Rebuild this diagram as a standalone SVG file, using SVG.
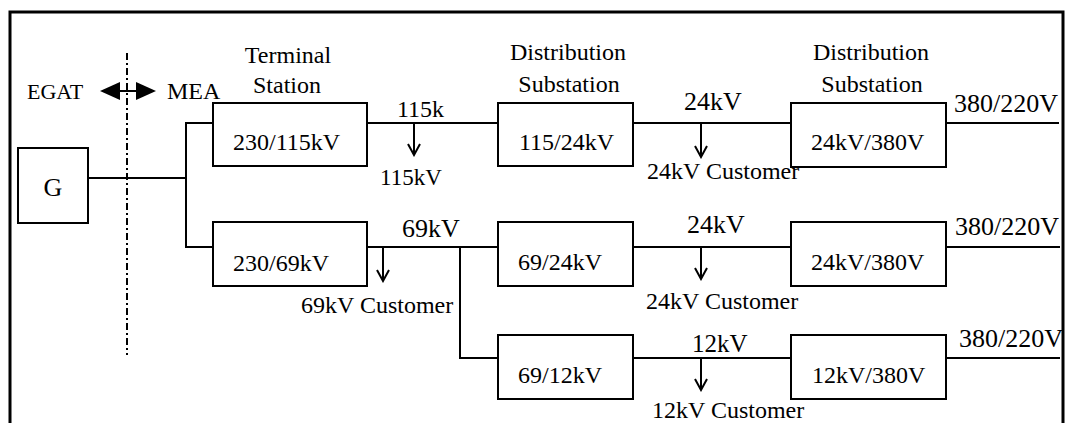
<svg xmlns="http://www.w3.org/2000/svg" width="1067" height="423" viewBox="0 0 1067 423">
<defs>
<marker id="vhead" markerUnits="userSpaceOnUse" markerWidth="14" markerHeight="14" viewBox="0 0 14 14" refX="12" refY="7" orient="auto">
<path d="M1,1 L12,7 L1,13" fill="none" stroke="#000" stroke-width="2"/>
</marker>
</defs>
<style>
text{font-family:"Liberation Serif","Times New Roman",serif;fill:#000;font-size:24px}
.box{fill:#fff;stroke:#000;stroke-width:2}
.ln{stroke:#000;stroke-width:2;fill:none}
.v{font-size:26px}
.m{text-anchor:middle}
</style>
<rect width="1067" height="423" fill="#fff"/>
<path d="M10,423 V12 H1063 V423" fill="none" stroke="#000" stroke-width="3"/>

<g id="connectors">
<line class="ln" x1="127" y1="53" x2="127" y2="355" stroke-dasharray="7 3 2 3"/>
<line class="ln" x1="118" y1="91" x2="138" y2="91"/>
<polygon points="100,91 120,82 120,100" fill="#000"/>
<polygon points="156,91 136,82 136,100" fill="#000"/>
<polyline class="ln" points="88,178 186,178"/>
<polyline class="ln" points="213,123 186,123 186,247 213,247"/>
<line class="ln" x1="367" y1="123" x2="498" y2="123"/>
<line class="ln" x1="633" y1="123" x2="791" y2="123"/>
<line class="ln" x1="946" y1="123" x2="1059" y2="123"/>
<line class="ln" x1="367" y1="247" x2="498" y2="247"/>
<polyline class="ln" points="460,247 460,358 498,358"/>
<line class="ln" x1="633" y1="247" x2="791" y2="247"/>
<line class="ln" x1="946" y1="247" x2="1060" y2="247"/>
<line class="ln" x1="633" y1="358" x2="791" y2="358"/>
<line class="ln" x1="946" y1="358" x2="1060" y2="358"/>
<line class="ln" x1="414" y1="123" x2="414" y2="155" marker-end="url(#vhead)"/>
<line class="ln" x1="701" y1="123" x2="701" y2="157" marker-end="url(#vhead)"/>
<line class="ln" x1="383" y1="247" x2="383" y2="281" marker-end="url(#vhead)"/>
<line class="ln" x1="701" y1="247" x2="701" y2="279" marker-end="url(#vhead)"/>
<line class="ln" x1="701" y1="358" x2="701" y2="390" marker-end="url(#vhead)"/>
</g>

<g id="labels">
<text x="27" y="99" style="font-size:22px">EGAT</text>
<text x="167" y="99">MEA</text>
<text x="288" y="63" class="m">Terminal</text>
<text x="287" y="93" class="m">Station</text>
<text x="568" y="60" class="m">Distribution</text>
<text x="569" y="92" class="m">Substation</text>
<text x="871" y="60" class="m">Distribution</text>
<text x="872" y="92" class="m">Substation</text>
<text x="397" y="117">115k</text>
<text x="380" y="185" style="font-size:23px">115kV</text>
<text x="684" y="110" class="v">24kV</text>
<text x="647" y="179">24kV Customer</text>
<text x="954" y="112" class="v">380/220V</text>
<text x="402" y="237" class="v">69kV</text>
<text x="301" y="313">69kV Customer</text>
<text x="687" y="233" class="v">24kV</text>
<text x="646" y="309">24kV Customer</text>
<text x="955" y="235" class="v">380/220V</text>
<text x="692" y="352" style="font-size:25px">12kV</text>
<text x="652" y="418">12kV Customer</text>
<text x="959" y="347" class="v">380/220V</text>
</g>

<g id="node-G"><rect class="box" x="18" y="148" width="70" height="75"/><text x="53" y="196" class="m v">G</text></g>
<g id="node-230-115"><rect class="box" x="213" y="103" width="154" height="63"/><text x="233" y="150">230/115kV</text></g>
<g id="node-115-24"><rect class="box" x="498" y="103" width="135" height="63"/><text x="519" y="150">115/24kV</text></g>
<g id="node-24-380a"><rect class="box" x="791" y="103" width="155" height="64"/><text x="811" y="150">24kV/380V</text></g>
<g id="node-230-69"><rect class="box" x="213" y="222" width="154" height="64"/><text x="233" y="271">230/69kV</text></g>
<g id="node-69-24"><rect class="box" x="498" y="222" width="135" height="64"/><text x="518" y="270">69/24kV</text></g>
<g id="node-24-380b"><rect class="box" x="791" y="222" width="155" height="64"/><text x="811" y="270">24kV/380V</text></g>
<g id="node-69-12"><rect class="box" x="498" y="335" width="135" height="64"/><text x="518" y="383">69/12kV</text></g>
<g id="node-12-380"><rect class="box" x="791" y="335" width="155" height="64"/><text x="812" y="383">12kV/380V</text></g>
</svg>
